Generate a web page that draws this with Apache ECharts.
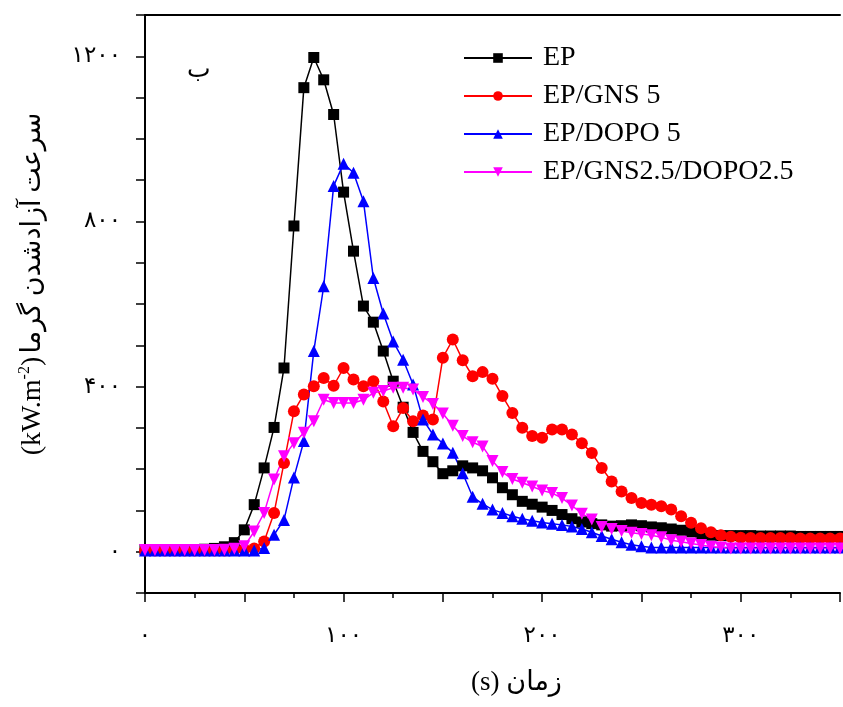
<!DOCTYPE html>
<html>
<head>
<meta charset="utf-8">
<script src="https://cdn.jsdelivr.net/npm/echarts@6/dist/echarts.min.js"></script>
<style>
  html, body { margin: 0; padding: 0; background: #fff; }
  #chart { width: 843px; height: 707px; }
</style>
</head>
<body>
<div id="chart"></div>
<script>
// time (s)
const time = [0, 5, 10, 15, 20, 25, 30, 35, 40, 45, 50, 55, 60, 65, 70, 75, 80, 85, 90, 95,
  100, 105, 110, 115, 120, 125, 130, 135, 140, 145, 150, 155, 160, 165, 170, 175, 180, 185, 190, 195,
  200, 205, 210, 215, 220, 225, 230, 235, 240, 245, 250, 255, 260, 265, 270, 275, 280, 285, 290, 295,
  300, 305, 310, 315, 320, 325, 330, 335, 340, 345, 350];

// heat release rate (kW.m-2)
const ep = [5, 5, 5, 5, 5, 5, 6, 8, 12, 22, 53, 114, 203, 301, 445, 789, 1124, 1197, 1143, 1059,
  871, 728, 595, 556, 486, 413, 350, 289, 243, 218, 189, 196, 208, 203, 196, 179, 155, 138, 122, 115,
  108, 100, 90, 80, 72, 68, 65, 62, 63, 65, 63, 60, 58, 55, 52, 48, 43, 40, 39, 39,
  39, 39, 38, 38, 38, 38, 37, 37, 37, 37, 37];
const epGns = [3, 3, 3, 3, 3, 3, 3, 3, 3, 4, 6, 8, 25, 94, 215, 340, 381, 401, 421, 402,
  445, 417, 401, 413, 364, 304, 348, 316, 330, 320, 470, 514, 464, 425, 435, 419, 377, 336, 300, 280,
  276, 296, 296, 284, 263, 239, 203, 170, 146, 130, 118, 114, 110, 102, 86, 70, 57, 47, 40, 36,
  34, 33, 33, 33, 33, 33, 32, 32, 32, 32, 32];
const epDopo = [3, 3, 3, 3, 3, 3, 3, 3, 3, 3, 3, 3, 9, 41, 77, 180, 268, 486, 643, 886,
  940, 918, 849, 663, 577, 509, 465, 405, 320, 284, 262, 240, 190, 133, 116, 102, 94, 86, 80, 75,
  71, 68, 65, 61, 55, 47, 38, 30, 23, 17, 13, 10, 10, 10, 10, 10, 10, 10, 10, 10,
  10, 10, 10, 10, 10, 10, 10, 10, 10, 10, 10];
const epGnsDopo = [4, 4, 4, 4, 4, 4, 4, 4, 5, 7, 13, 49, 94, 175, 231, 263, 288, 316, 368, 360,
  360, 360, 368, 385, 389, 397, 397, 393, 375, 358, 335, 305, 280, 265, 255, 220, 193, 176, 167, 158,
  148, 142, 130, 112, 92, 78, 60, 55, 50, 46, 43, 40, 35, 28, 24, 20, 16, 12, 10, 8,
  8, 8, 8, 8, 8, 8, 8, 8, 8, 8, 8];

const seriesNames = ['EP', 'EP/GNS 5', 'EP/DOPO 5', 'EP/GNS2.5/DOPO2.5'];

// tick labels (Persian digits)
const xTickValues = [0, 100, 200, 300];
const xTickLabels = ['۰', '۱۰۰', '۲۰۰', '۳۰۰'];
const yTickValues = [0, 400, 800, 1200];
const yTickLabels = ['۰', '۴۰۰', '۸۰۰', '۱۲۰۰'];

const FONT = "'Liberation Serif', 'DejaVu Sans', serif";

function pairs(values) {
  return time.map((t, i) => [t, values[i]]);
}

function lineSeries(name, values, color, symbol, size, rotate) {
  return {
    name: name,
    type: 'line',
    data: pairs(values),
    symbol: symbol,
    symbolSize: size,
    symbolRotate: rotate || 0,
    showAllSymbol: true,
    lineStyle: { color: color, width: 1.5 },
    itemStyle: { color: color },
    emphasis: { disabled: true }
  };
}

const chart = echarts.init(document.getElementById('chart'));

const option = {
  animation: false,
  backgroundColor: '#fff',
  title: {
    text: 'ب',
    left: 182,
    top: 53,
    textStyle: { fontFamily: FONT, fontSize: 25, fontWeight: 'normal', color: '#000' }
  },
  legend: {
    orient: 'vertical',
    left: 458,
    top: 38,
    itemWidth: 68,
    itemHeight: 12,
    itemGap: 8,
    textStyle: { fontFamily: FONT, fontSize: 28, color: '#000', lineHeight: 30, padding: [0, 0, 0, 6] },
    data: seriesNames
  },
  grid: {
    left: 145,
    right: -1,
    top: 15,
    bottom: 114,
    containLabel: false
  },
  xAxis: [
    {
      type: 'value',
      min: 0,
      max: 350,
      interval: 50,
      name: '(s) زمان',
      nameLocation: 'middle',
      nameGap: 76,
      nameTextStyle: { fontFamily: FONT, fontSize: 27, color: '#000', padding: [0, 0, 0, 48] },
      axisLine: { show: true, onZero: false, lineStyle: { color: '#000', width: 2 } },
      axisTick: { show: true, inside: false, length: 9, lineStyle: { color: '#000', width: 1.5 } },
      minorTick: { show: true, splitNumber: 2, length: 5, lineStyle: { color: '#000', width: 1.5 } },
      splitLine: { show: false },
      axisLabel: {
        margin: 31,
        fontFamily: FONT,
        fontSize: 23,
        color: '#000',
        formatter: v => {
          const i = xTickValues.indexOf(v);
          return i >= 0 ? xTickLabels[i] : '';
        }
      }
    },
    {
      type: 'value',
      position: 'top',
      min: 0,
      max: 350,
      axisLine: { show: true, onZero: false, lineStyle: { color: '#000', width: 2 } },
      axisTick: { show: false },
      axisLabel: { show: false },
      splitLine: { show: false }
    }
  ],
  yAxis: {
    type: 'value',
    min: -100,
    max: 1300,
    interval: 100,
    name: '{p|(kW.m}{s|-2}{p|)} {a|سرعت آزادشدن گرما}',
    nameLocation: 'middle',
    nameGap: 96,
    nameTextStyle: {
      padding: [0, 0, 0, 40],
      rich: {
        p: { fontFamily: FONT, fontSize: 28, color: '#000', lineHeight: 32 },
        s: { fontFamily: FONT, fontSize: 16, color: '#000', verticalAlign: 'top', lineHeight: 32 },
        a: { fontFamily: FONT, fontSize: 27, color: '#000', lineHeight: 32 }
      }
    },
    axisLine: { show: true, onZero: false, lineStyle: { color: '#000', width: 2 } },
    axisTick: { show: true, inside: false, length: 9, lineStyle: { color: '#000', width: 1.5 } },
    splitLine: { show: false },
    axisLabel: {
      margin: 24,
      fontFamily: FONT,
      fontSize: 23,
      color: '#000',
      formatter: v => {
        const i = yTickValues.indexOf(v);
        return i >= 0 ? yTickLabels[i] : '';
      }
    }
  },
  series: [
    lineSeries(seriesNames[0], ep, '#000000', 'rect', 11),
    lineSeries(seriesNames[1], epGns, '#ff0000', 'circle', 12),
    lineSeries(seriesNames[2], epDopo, '#0000ff', 'triangle', 12),
    lineSeries(seriesNames[3], epGnsDopo, '#ff00ff', 'triangle', 12, 180)
  ]
};

chart.setOption(option);
</script>
</body>
</html>
